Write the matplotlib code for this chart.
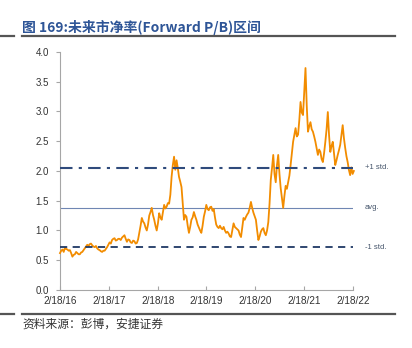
import matplotlib.pyplot as plt
import matplotlib.dates as mdates
import pandas as pd

# --- data ---
pb_values = [
    0.62, 0.66, 0.68, 0.64, 0.71, 0.69, 0.68, 0.66, 0.67, 0.62, 0.56, 0.59,
    0.60, 0.64, 0.62, 0.60, 0.60, 0.63, 0.64, 0.67, 0.70, 0.73, 0.76, 0.74,
    0.77, 0.78, 0.75, 0.73, 0.72, 0.74, 0.70, 0.68, 0.67, 0.65, 0.64, 0.66,
    0.66, 0.69, 0.72, 0.76, 0.80, 0.78, 0.84, 0.86, 0.87, 0.83, 0.84, 0.86,
    0.86, 0.84, 0.88, 0.90, 0.92, 0.86, 0.81, 0.85, 0.84, 0.80, 0.79, 0.83,
    0.82, 0.78, 0.79, 0.85, 0.96, 1.08, 1.21, 1.15, 1.12, 1.05, 1.00, 1.10,
    1.25, 1.31, 1.38, 1.26, 1.18, 1.08, 1.00, 1.12, 1.29, 1.22, 1.18, 1.30,
    1.43, 1.37, 1.40, 1.46, 1.45, 1.60, 1.90, 2.10, 2.24, 2.02, 2.18, 2.05,
    1.90, 1.82, 1.73, 1.45, 1.18, 1.26, 1.23, 1.08, 0.96, 1.06, 1.18, 1.22,
    1.31, 1.24, 1.18, 1.10, 1.05, 1.00, 0.96, 1.08, 1.23, 1.32, 1.43, 1.36,
    1.34, 1.39, 1.40, 1.33, 1.36, 1.22, 1.10, 1.06, 1.04, 1.08, 1.04, 1.02,
    1.06, 1.00, 0.96, 0.98, 0.95, 0.90, 0.89, 1.00, 1.12, 1.06, 1.04, 1.02,
    1.00, 0.93, 0.89, 1.05, 1.21, 1.18, 1.23, 1.27, 1.30, 1.38, 1.48, 1.38,
    1.30, 1.24, 1.18, 1.00, 0.84, 0.90, 0.98, 1.02, 1.04, 0.96, 0.92, 1.00,
    1.14, 1.45, 1.85, 2.05, 2.27, 1.95, 1.81, 2.10, 2.27, 1.95, 1.71, 1.55,
    1.38, 1.58, 1.75, 1.70, 1.81, 1.92, 2.10, 2.30, 2.49, 2.60, 2.72, 2.58,
    2.61, 2.85, 3.16, 2.98, 2.94, 3.35, 3.73, 3.10, 2.66, 2.75, 2.82, 2.70,
    2.66, 2.58, 2.49, 2.38, 2.27, 2.36, 2.32, 2.20, 2.15, 2.30, 2.49, 2.70,
    2.99, 2.60, 2.32, 2.42, 2.49, 2.30, 2.10, 2.18, 2.27, 2.35, 2.44, 2.60,
    2.77, 2.55, 2.39, 2.25, 2.15, 2.02, 1.93, 2.06, 1.95, 2.00,
]
start_date = '2016-02-18'
end_date = '2022-02-25'
plus_std = 2.05
avg = 1.38
minus_std = 0.72
x_ticks = ['2016-02-18', '2017-02-18', '2018-02-18', '2019-02-18',
           '2020-02-18', '2021-02-18', '2022-02-18']
y_ticks = [0.0, 0.5, 1.0, 1.5, 2.0, 2.5, 3.0, 3.5, 4.0]

dates = pd.date_range(start_date, end_date, periods=len(pb_values))

plt.rcParams['font.family'] = ['Liberation Sans', 'Noto Sans CJK SC', 'DejaVu Sans']

fig = plt.figure(figsize=(4.12, 3.48), dpi=100)
ax = fig.add_axes([0.1456, 0.1667, 0.711, 0.684])

ax.plot(dates, pb_values, color='#F28C00', lw=1.3, clip_on=False, zorder=3)

xmin, xmax = pd.Timestamp(x_ticks[0]), pd.Timestamp(end_date)
ax.hlines(plus_std, xmin, xmax, colors='#2F4B7C', lw=1.5, linestyles=(0, (6, 3, 1.5, 3)), zorder=4)
ax.hlines(avg, xmin, xmax, colors='#6F86B3', lw=0.8, zorder=2)
ax.hlines(minus_std, xmin, xmax, colors='#1F3864', lw=1.3, linestyles=(0, (4, 3)), zorder=4)

ax.set_xlim(pd.Timestamp(x_ticks[0]), pd.Timestamp(x_ticks[-1]))
ax.set_ylim(0, 4)
ax.set_yticks(y_ticks)
ax.set_yticklabels([f'{v:.1f}' for v in y_ticks])
ax.set_xticks(pd.to_datetime(x_ticks))
ax.xaxis.set_major_formatter(mdates.DateFormatter('%-m/%d/%y'))

for s in ['top', 'right']:
    ax.spines[s].set_visible(False)
for s in ['left', 'bottom']:
    ax.spines[s].set_color('#A6A6A6')
    ax.spines[s].set_linewidth(0.8)
ax.tick_params(axis='y', direction='out', length=3, color='#A6A6A6', labelsize=7, labelcolor='#333333', pad=5)
ax.tick_params(axis='x', direction='in', length=3, color='#A6A6A6', labelsize=7.2, labelcolor='#333333', pad=4)

# right side labels
tr = ax.get_yaxis_transform()
ax.text(1.04, plus_std, '+1 std.', transform=tr, fontsize=5.5, color='#44546A', va='center')
ax.text(1.04, avg, 'avg.', transform=tr, fontsize=5.5, color='#44546A', va='center')
ax.text(1.04, minus_std, '-1 std.', transform=tr, fontsize=5.5, color='#44546A', va='center')

# title and rules
fig.text(22 / 412, 1 - 27 / 348, '图 169:未来市净率(Forward P/B)区间', fontsize=10,
         color='#2E5597', va='center', ha='left', fontweight='bold',
         family=['Noto Sans CJK SC', 'DejaVu Sans'])
for y in [36, 314]:
    yy = 1 - y / 348
    fig.add_artist(plt.Line2D([0, 14 / 412], [yy, yy], color='#555555', lw=1.6))
    fig.add_artist(plt.Line2D([22 / 412, 395 / 412], [yy, yy], color='#555555', lw=1.6))

fig.text(22 / 412, 1 - 324 / 348, '资料来源：彭博，安捷证券', fontsize=8.5, color='#333333',
         va='center', ha='left', style='italic', family=['Noto Sans CJK SC', 'DejaVu Sans'])

plt.savefig('out.png', dpi=100)
